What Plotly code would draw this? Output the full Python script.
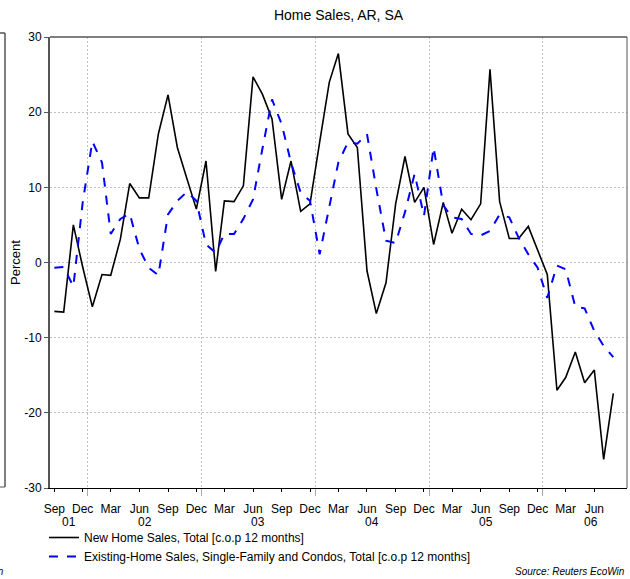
import pandas as pd
import plotly.graph_objects as go

# Monthly observations, Sep 2001 - Aug 2006 (plotted mid-month)
months = pd.date_range("2001-09-01", periods=60, freq="MS") + pd.Timedelta(days=14)

new_home_sales = [
    -6.5, -6.6, 5.0, -0.6, -5.9, -1.6, -1.7, 3.1, 10.5, 8.6, 8.6, 17.1,
    22.3, 15.3, 11.1, 7.1, 13.5, -1.2, 8.2, 8.1, 10.2, 24.7, 22.4, 19.1,
    8.4, 13.5, 6.8, 7.8, 16.0, 24.0, 27.8, 17.1, 15.3, -1.1, -6.8, -2.7,
    7.8, 14.1, 8.0, 10.0, 2.4, 8.0, 3.9, 7.1, 5.7, 7.8, 25.7, 8.1,
    3.2, 3.2, 4.8, 1.6, -1.6, -17.0, -15.3, -11.9, -16.0, -14.3, -26.2, -17.4,
]
existing_home_sales = [
    -0.7, -0.6, -3.2, 8.0, 16.1, 13.3, 3.8, 5.8, 6.5, 1.8, -0.7, -1.7,
    6.4, 8.2, 9.4, 8.2, 2.4, 1.3, 3.8, 3.8, 5.8, 8.4, 15.1, 21.7,
    18.4, 13.3, 9.3, 8.2, 1.1, 7.6, 13.3, 16.0, 15.8, 17.1, 9.8, 2.9,
    2.6, 6.7, 11.8, 6.2, 15.3, 7.6, 6.0, 5.8, 3.8, 3.6, 4.2, 6.4,
    6.0, 3.3, 1.1, -0.7, -4.7, -0.4, -0.9, -5.9, -6.1, -9.1, -11.1, -12.6,
]

tick_dates = pd.date_range("2001-09-01", "2006-06-01", freq="3MS") + pd.Timedelta(days=14)
tick_labels = [d.strftime("%b") for d in tick_dates]
year_lines = pd.date_range("2002-01-01", "2006-01-01", freq="YS")
year_labels = ["01", "02", "03", "04", "05", "06"]
year_label_pos = ["2001-10-31", "2002-07-02", "2003-07-02", "2004-07-02", "2005-07-02", "2006-06-05"]
y_ticks = [-30, -20, -10, 0, 10, 20, 30]
y_tick_labels = ["-30", "-20", "-10", "0", "10", "20", "30"]

series_names = [
    "New Home Sales, Total [c.o.p 12 months]",
    "Existing-Home Sales, Single-Family and Condos, Total [c.o.p 12 months]",
]

fig = go.Figure()
fig.add_trace(go.Scatter(x=months, y=new_home_sales, mode="lines", name=series_names[0],
                         line=dict(color="black", width=1.6)))
fig.add_trace(go.Scatter(x=months, y=existing_home_sales, mode="lines", name=series_names[1],
                         line=dict(color="#0000FF", width=2, dash="dash")))

font = "Liberation Sans, Arial, sans-serif"
W, H = 630, 579
L, R, T, B = 50, 3, 37, 91
pw, ph = W - L - R, H - T - B

def px_x(px):
    return (px - L) / pw

def px_y(py):
    return (H - B - py) / ph

grid_dash = "2px,2px"

fig.update_layout(
    width=W, height=H,
    margin=dict(l=L, r=R, t=T, b=B),
    paper_bgcolor="white", plot_bgcolor="white",
    font=dict(family=font, size=12, color="black"),
    title=dict(text="Home Sales, AR, SA", x=0.5, xref="paper", xanchor="center",
               y=1 - 15 / H, yanchor="middle", font=dict(size=14)),
    showlegend=True,
    legend=dict(x=px_x(44), y=px_y(523), xanchor="left", yanchor="top",
                bgcolor="rgba(0,0,0,0)", borderwidth=0, font=dict(size=12),
                tracegroupgap=0),
)

fig.update_xaxes(
    type="date", range=["2001-09-01", "2006-09-28"],
    tickmode="array", tickvals=tick_dates, ticktext=tick_labels,
    ticks="outside", ticklen=3, tickcolor="black", ticklabelstandoff=7,
    showgrid=False, zeroline=False,
    showline=True, linecolor="black", linewidth=1, mirror=False,
    tickfont=dict(size=12),
    minor=dict(tickmode="array", tickvals=year_lines, showgrid=True,
               gridcolor="#c0c0c0", griddash=grid_dash, gridwidth=1,
               ticks="outside", ticklen=7, tickcolor="#aaaaaa"),
)
fig.update_yaxes(
    range=[-30, 30], tickmode="array", tickvals=y_ticks, ticktext=y_tick_labels,
    ticks="outside", ticklen=4, tickcolor="#555555",
    showgrid=True, gridcolor="#c0c0c0", griddash=grid_dash, gridwidth=1,
    zeroline=False, showline=True, linecolor="#555555", linewidth=2,
    tickfont=dict(size=12),
    title=dict(text="Percent", font=dict(size=13), standoff=1),
)

# plot frame (top and right)
fig.add_shape(type="line", xref="paper", yref="paper", x0=0, x1=1, y0=1, y1=1,
              line=dict(color="#555555", width=1.5))
fig.add_shape(type="line", xref="paper", yref="paper", x0=1, x1=1, y0=0, y1=1,
              line=dict(color="#555555", width=1))

# clipped neighbouring panel at left edge
fig.add_shape(type="line", xref="paper", yref="paper", x0=px_x(5), x1=px_x(5),
              y0=px_y(487), y1=px_y(33), line=dict(color="#555555", width=1.5))
fig.add_shape(type="line", xref="paper", yref="paper", x0=px_x(-20), x1=px_x(5),
              y0=px_y(33), y1=px_y(33), line=dict(color="#555555", width=1.5))
fig.add_shape(type="line", xref="paper", yref="paper", x0=px_x(-20), x1=px_x(5),
              y0=px_y(487), y1=px_y(487), line=dict(color="#555555", width=1))

for lab, pos in zip(year_labels, year_label_pos):
    fig.add_annotation(x=pos, xref="x", y=px_y(522), yref="paper", text=lab,
                       showarrow=False, xanchor="center", yanchor="middle",
                       font=dict(size=12))

fig.add_annotation(x=px_x(627), y=px_y(571), xref="paper", yref="paper",
                   text="<i>Source: Reuters EcoWin</i>", showarrow=False,
                   xanchor="right", yanchor="middle", font=dict(size=10))
fig.add_annotation(x=px_x(6), y=px_y(571), xref="paper", yref="paper",
                   text="<i>Source: Reuters EcoWin</i>", showarrow=False,
                   xanchor="right", yanchor="middle", font=dict(size=10))

fig.write_html(
    "out.html",
    config={"displayModeBar": False},
    post_script="document.body.style.margin='0';document.body.style.overflow='hidden';",
)
